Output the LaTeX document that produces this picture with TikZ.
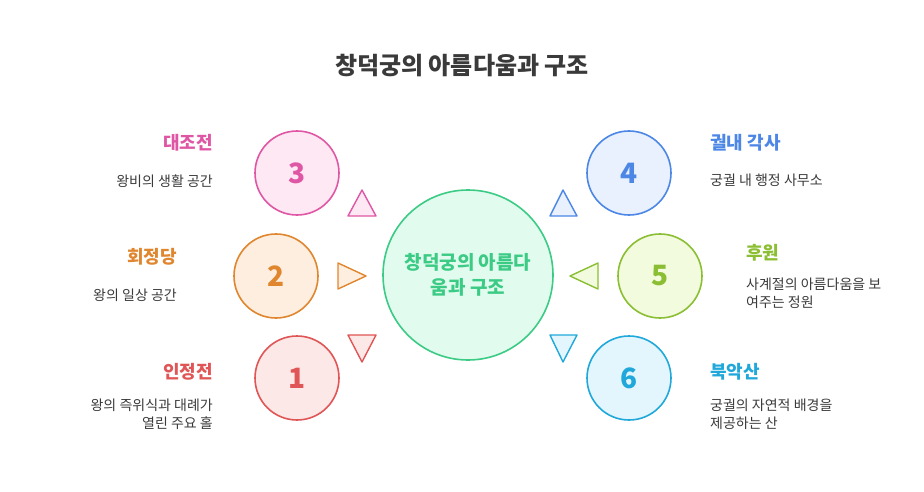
\documentclass[tikz,border=0pt]{standalone}
\usepackage{fontspec}
\setmainfont{Noto Sans CJK KR}
\definecolor{cpink}{HTML}{DF57A4}
\definecolor{fpink}{HTML}{FDE8F4}
\definecolor{corange}{HTML}{E0862E}
\definecolor{forange}{HTML}{FDEEE0}
\definecolor{cred}{HTML}{E05555}
\definecolor{fred}{HTML}{FDE8E8}
\definecolor{cblue}{HTML}{4C87E6}
\definecolor{fblue}{HTML}{E9F0FE}
\definecolor{cgreen}{HTML}{8BBE32}
\definecolor{fgreen}{HTML}{F3FBDF}
\definecolor{ccyan}{HTML}{21A8DA}
\definecolor{fcyan}{HTML}{E4F6FD}
\definecolor{cmain}{HTML}{3CCB84}
\definecolor{fmain}{HTML}{E1FCEF}
\definecolor{ctext}{HTML}{3A3A3A}
\begin{document}
\begin{tikzpicture}[x=1pt,y=-1pt,
  numcirc/.style={circle,minimum size=84pt,line width=1.6pt,inner sep=0pt,font=\fontsize{28}{32}\selectfont\bfseries},
  tri/.style={line width=1.4pt,line join=round},
  lab/.style={inner sep=0pt,font=\fontsize{18}{22}\selectfont\bfseries},
  desc/.style={inner sep=0pt,text=ctext,font=\fontsize{14}{18}\selectfont}]
\useasboundingbox (0,0) rectangle (924,492);
\node[inner sep=0pt,text=ctext,font=\fontsize{24}{28}\selectfont\bfseries] (title) at (462,66) {창덕궁의 아름다움과 구조};
% centre
\node[circle,minimum size=170pt,line width=1.6pt,draw=cmain,fill=fmain,text=cmain,align=center,inner sep=0pt,font=\fontsize{19}{25}\selectfont\bfseries] (center) at (468,275) {창덕궁의 아름다\\움과 구조};
% numbered circles
\node[numcirc,draw=cpink,fill=fpink,text=cpink] (c3) at (297,173) {3};
\node[numcirc,draw=corange,fill=forange,text=corange] (c2) at (276,276) {2};
\node[numcirc,draw=cred,fill=fred,text=cred] (c1) at (297,378) {1};
\node[numcirc,draw=cblue,fill=fblue,text=cblue] (c4) at (629,173) {4};
\node[numcirc,draw=cgreen,fill=fgreen,text=cgreen] (c5) at (660,276) {5};
\node[numcirc,draw=ccyan,fill=fcyan,text=ccyan] (c6) at (629,378) {6};
% triangles
\draw[tri,draw=cpink,fill=fpink] (348,216) -- (362,190) -- (376,216) -- cycle;
\draw[tri,draw=corange,fill=forange] (338,263) -- (366,276) -- (338,289) -- cycle;
\draw[tri,draw=cred,fill=fred] (348,335) -- (376,335) -- (362,362) -- cycle;
\draw[tri,draw=cblue,fill=fblue] (550,216) -- (563,190) -- (577,216) -- cycle;
\draw[tri,draw=cgreen,fill=fgreen] (598,263) -- (570,276) -- (598,289) -- cycle;
\draw[tri,draw=ccyan,fill=fcyan] (550,335) -- (577,335) -- (563,362) -- cycle;
% left labels
\node[lab,text=cpink,anchor=east] (l3) at (213,143) {대조전};
\node[desc,anchor=east] (d3) at (213,181) {왕비의 생활 공간};
\node[lab,text=corange,anchor=east] (l2) at (177,257) {회정당};
\node[desc,anchor=east] (d2) at (177,295) {왕의 일상 공간};
\node[lab,text=cred,anchor=east] (l1) at (213,372) {인정전};
\node[desc,anchor=east,align=right] (d1) at (213,414) {왕의 즉위식과 대례가\\열린 주요 홀};
% right labels
\node[lab,text=cblue,anchor=west] (l4) at (710,143) {궐내 각사};
\node[desc,anchor=west] (d4) at (710,180) {궁궐 내 행정 사무소};
\node[lab,text=cgreen,anchor=west] (l5) at (746,253) {후원};
\node[desc,anchor=west,align=left] (d5) at (746,293) {사계절의 아름다움을 보\\여주는 정원};
\node[lab,text=ccyan,anchor=west] (l6) at (710,372) {북악산};
\node[desc,anchor=west,align=left] (d6) at (710,414) {궁궐의 자연적 배경을\\제공하는 산};
\end{tikzpicture}
\end{document}
